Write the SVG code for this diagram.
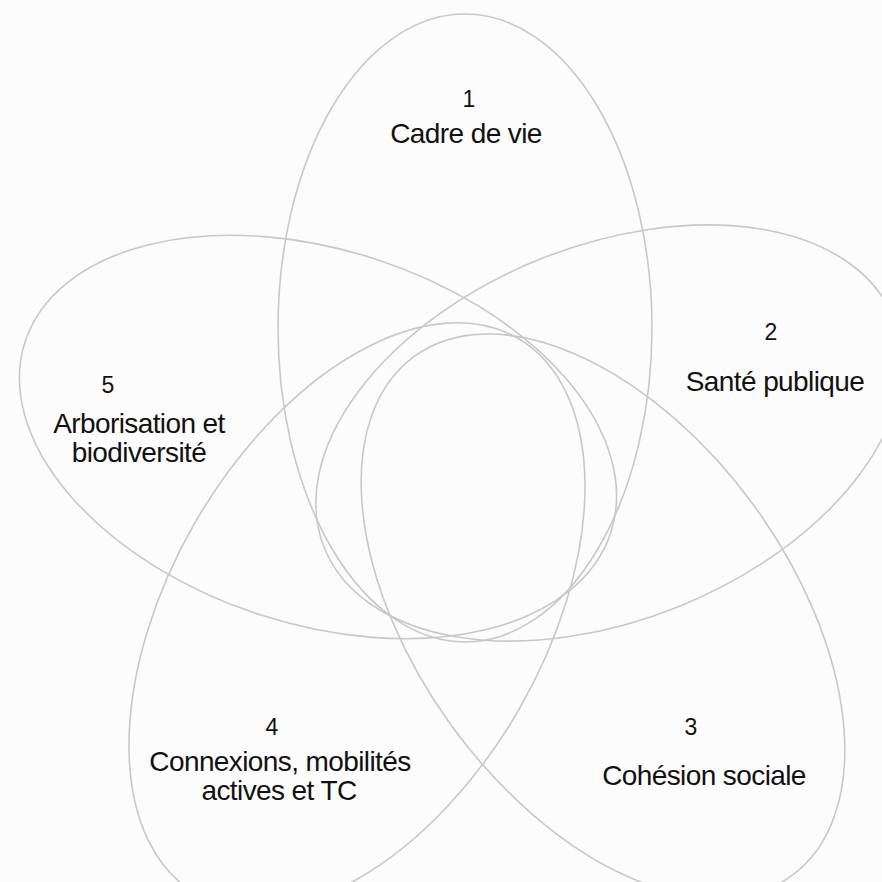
<svg xmlns="http://www.w3.org/2000/svg" width="882" height="882" viewBox="0 0 882 882">
<style>
.petal{fill:none;stroke:#c8c8c8;stroke-width:1.6}
.num{font-family:"Liberation Sans",Arial,sans-serif;font-size:23px;fill:#111;text-anchor:middle}
.lbl{font-family:"Liberation Sans",Arial,sans-serif;font-size:28px;fill:#111;text-anchor:middle;letter-spacing:-0.6px}
</style>
<rect width="882" height="882" fill="#fdfcfc"/>
<g id="connectors"></g>
<g id="n1">
<ellipse class="petal" cx="465" cy="328" rx="187" ry="314"/>
<text class="num" x="469" y="107">1</text>
<text class="lbl" x="466" y="143">Cadre de vie</text>
</g>
<g id="n2">
<ellipse class="petal" cx="609" cy="433" rx="307" ry="187" transform="rotate(-22 609 433)"/>
<text class="num" x="771" y="340">2</text>
<text class="lbl" x="775" y="391">Santé publique</text>
</g>
<g id="n3">
<ellipse class="petal" cx="603" cy="616" rx="187" ry="321" transform="rotate(-36 603 616)"/>
<text class="num" x="691" y="735">3</text>
<text class="lbl" x="704" y="785">Cohésion sociale</text>
</g>
<g id="n4">
<ellipse class="petal" cx="357" cy="616" rx="187" ry="321" transform="rotate(30 357 616)"/>
<text class="num" x="272" y="735">4</text>
<text class="lbl" x="280" y="771">Connexions, mobilités</text>
<text class="lbl" x="279" y="800">actives et TC</text>
</g>
<g id="n5">
<ellipse class="petal" cx="318" cy="437" rx="308" ry="187" transform="rotate(18 318 437)"/>
<text class="num" x="108" y="393">5</text>
<text class="lbl" x="139" y="433">Arborisation et</text>
<text class="lbl" x="139" y="462">biodiversité</text>
</g>
</svg>
